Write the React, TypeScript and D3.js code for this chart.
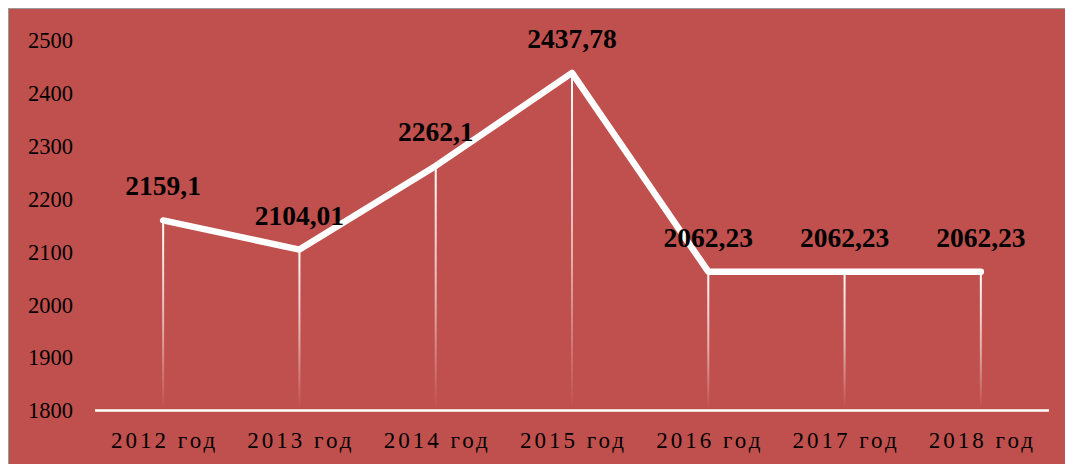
import React from "react";
import * as d3 from "d3";

const categories = ["2012 год", "2013 год", "2014 год", "2015 год", "2016 год", "2017 год", "2018 год"];
const values = [2159.1, 2104.01, 2262.1, 2437.78, 2062.23, 2062.23, 2062.23];
const valueLabels = ["2159,1", "2104,01", "2262,1", "2437,78", "2062,23", "2062,23", "2062,23"];
const yTicks = [1800, 1900, 2000, 2100, 2200, 2300, 2400, 2500];

const W = 1065;
const H = 464;
const BG = "#C0504D";
const FONT = "'Liberation Serif', 'Times New Roman', serif";

export default function App() {
  const x = d3.scaleBand<string>().domain(categories).range([95, 1049]).padding(0);
  const y = d3.scaleLinear().domain([1800, 2500]).range([410.5, 40]);
  const cx = (c: string) => (x(c) as number) + x.bandwidth() / 2;

  const line = d3
    .line<number>()
    .x((_, i) => cx(categories[i]))
    .y((v) => y(v));

  return (
    <svg
      width={W}
      height={H}
      style={{ position: "absolute", left: 0, top: 0, display: "block" }}
    >
      <defs>
        <linearGradient id="drop" x1="0" y1="0" x2="0" y2="1">
          <stop offset="0" stopColor="#ffffff" stopOpacity={1} />
          <stop offset="0.55" stopColor="#ffffff" stopOpacity={0.55} />
          <stop offset="1" stopColor="#ffffff" stopOpacity={0} />
        </linearGradient>
      </defs>
      <rect x={8.5} y={8.5} width={W} height={H} fill={BG} stroke="#9a9a9a" strokeWidth={1} />

      {/* y tick labels */}
      {yTicks.map((t) => (
        <text
          key={t}
          x={73}
          y={y(t)}
          dy="0.35em"
          textAnchor="end"
          fontFamily={FONT}
          fontSize={22.5}
          fill="#000"
        >
          {t}
        </text>
      ))}

      {/* drop lines */}
      {values.map((v, i) => (
        <rect
          key={"d" + i}
          x={cx(categories[i]) - 1}
          y={y(v)}
          width={2}
          height={y(1800) - y(v) - 2}
          fill="url(#drop)"
        />
      ))}

      {/* baseline */}
      <line x1={95} x2={1049} y1={y(1800)} y2={y(1800)} stroke="#fff" strokeWidth={2.6} />

      {/* main line */}
      <path
        d={line(values) || ""}
        fill="none"
        stroke="#fff"
        strokeWidth={6.5}
        strokeLinejoin="round"
        strokeLinecap="round"
      />

      {/* data labels */}
      {values.map((v, i) => (
        <text
          key={"l" + i}
          x={cx(categories[i])}
          y={y(v) - 25}
          textAnchor="middle"
          fontFamily={FONT}
          fontWeight="bold"
          fontSize={27.5}
          fill="#000"
        >
          {valueLabels[i]}
        </text>
      ))}

      {/* x labels */}
      {categories.map((c) => (
        <text
          key={c}
          x={cx(c) + 1.5}
          y={448}
          textAnchor="middle"
          fontFamily={FONT}
          fontSize={23}
          letterSpacing={3}
          fill="#000"
        >
          {c}
        </text>
      ))}
    </svg>
  );
}
